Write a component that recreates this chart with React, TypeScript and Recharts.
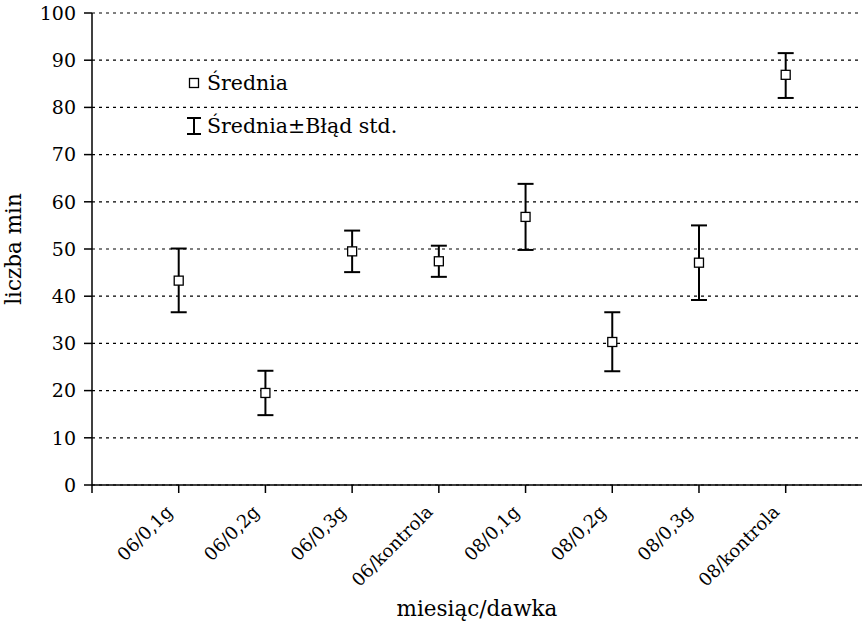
import React from 'react';
import {
  ComposedChart,
  Scatter,
  XAxis,
  YAxis,
  CartesianGrid,
  ErrorBar,
  Legend,
  Label,
} from 'recharts';

// Groups: month / dose
const categories = [
  '06/0,1g',
  '06/0,2g',
  '06/0,3g',
  '06/kontrola',
  '08/0,1g',
  '08/0,2g',
  '08/0,3g',
  '08/kontrola',
];

// Mean number of minutes per group
const means = [43.3, 19.5, 49.5, 47.4, 56.8, 30.3, 47.1, 86.9];
// Mean − standard error
const lowerBounds = [36.6, 14.8, 45.1, 44.1, 49.8, 24.1, 39.2, 82.0];
// Mean + standard error
const upperBounds = [50.1, 24.2, 53.9, 50.7, 63.8, 36.6, 55.0, 91.5];

const yTicks = [0, 10, 20, 30, 40, 50, 60, 70, 80, 90, 100];
const xTicks = [0, 1, 2, 3, 4, 5, 6, 7, 8];

const FONT = '"DejaVu Serif", "Liberation Serif", serif';

const data = categories.map((name, i) => ({
  pos: i + 1,
  name,
  mean: means[i],
  err: [means[i] - lowerBounds[i], upperBounds[i] - means[i]],
}));

const MeanSquare = (props: any) => {
  const { cx, cy } = props;
  if (cx == null || cy == null) return null;
  return (
    <rect
      x={cx - 4.5}
      y={cy - 4.5}
      width={9}
      height={9}
      fill="#fff"
      stroke="#000"
      strokeWidth={1.3}
    />
  );
};

const CategoryTick = (props: any) => {
  const { x, y, payload } = props;
  const label = categories[payload.value - 1];
  if (!label) return null;
  const ax = x - 5;
  const ay = y + 20;
  return (
    <text
      x={ax}
      y={ay}
      transform={`rotate(-45 ${ax} ${ay})`}
      textAnchor="end"
      fontFamily={FONT}
      fontSize={18}
      fill="#000"
    >
      {label}
    </text>
  );
};

const LegendBox = () => (
  <div style={{ fontFamily: FONT, fontSize: 20.5, color: '#000', lineHeight: '24px' }}>
    <div style={{ display: 'flex', alignItems: 'center', height: 24 }}>
      <svg width={16} height={16} style={{ display: 'block' }}>
        <rect x={3.5} y={3.5} width={9} height={9} fill="#fff" stroke="#000" strokeWidth={1.3} />
      </svg>
      <span style={{ marginLeft: 5 }}>Średnia</span>
    </div>
    <div style={{ display: 'flex', alignItems: 'center', height: 24, marginTop: 19 }}>
      <svg width={16} height={20} style={{ display: 'block' }}>
        <line x1={1} y1={2} x2={15} y2={2} stroke="#000" strokeWidth={2} />
        <line x1={8} y1={2} x2={8} y2={18} stroke="#000" strokeWidth={2} />
        <line x1={1} y1={18} x2={15} y2={18} stroke="#000" strokeWidth={2} />
      </svg>
      <span style={{ marginLeft: 5 }}>Średnia±Błąd std.</span>
    </div>
  </div>
);

export default function App() {
  return (
    <div style={{ position: 'absolute', left: 0, top: 0, background: '#fff' }}>
      <ComposedChart
        width={863}
        height={627}
        data={data}
        margin={{ top: 13, right: 1, bottom: 0, left: 0 }}
      >
        <CartesianGrid
          vertical={false}
          stroke="#000"
          strokeDasharray="3 4"
          strokeWidth={1.2}
        />
        <XAxis
          type="number"
          dataKey="pos"
          domain={[0, 8.88]}
          ticks={xTicks}
          interval={0}
          tickSize={8}
          tickMargin={0}
          height={142}
          axisLine={{ stroke: '#000', strokeWidth: 1.5 }}
          tickLine={{ stroke: '#000', strokeWidth: 1.5 }}
          tick={<CategoryTick />}
          allowDataOverflow
        >
          <Label
            value="miesiąc/dawka"
            position="insideBottom"
            offset={11}
            style={{ fontFamily: FONT, fontSize: 21.5, fill: '#000' }}
          />
        </XAxis>
        <YAxis
          type="number"
          dataKey="mean"
          domain={[0, 100]}
          ticks={yTicks}
          interval={0}
          width={92}
          tickSize={8}
          tickMargin={8}
          axisLine={{ stroke: '#000', strokeWidth: 1.5 }}
          tickLine={{ stroke: '#000', strokeWidth: 1.5 }}
          tick={{ fontFamily: FONT, fontSize: 19, fill: '#000' }}
          allowDataOverflow
        >
          <Label
            value="liczba min"
            angle={-90}
            position="insideLeft"
            offset={13}
            style={{ fontFamily: FONT, fontSize: 21.5, fill: '#000', textAnchor: 'middle' }}
          />
        </YAxis>
        <Legend
          layout="vertical"
          align="center"
          verticalAlign="middle"
          content={<LegendBox />}
          wrapperStyle={{ left: 186, top: 71, width: 280 }}
        />
        <Scatter
          dataKey="mean"
          fill="#fff"
          shape={<MeanSquare />}
          isAnimationActive={false}
        >
          <ErrorBar
            dataKey="err"
            direction="y"
            width={8}
            stroke="#000"
            strokeWidth={2}
            isAnimationActive={false}
          />
        </Scatter>
      </ComposedChart>
    </div>
  );
}
